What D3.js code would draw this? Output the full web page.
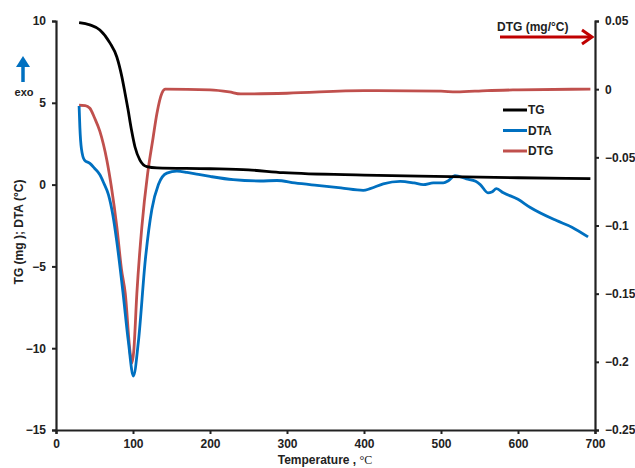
<!DOCTYPE html>
<html>
<head>
<meta charset="utf-8">
<script src="https://cdn.jsdelivr.net/npm/d3@7"></script>
<style>
body{margin:0;background:#fff}
svg{font-family:"Liberation Sans",Arial,sans-serif;font-weight:bold}
</style>
</head>
<body>
<svg id="chart" width="635" height="468"></svg>
<script>
// temperatures (°C) and values
var tgT   = [30,44,57,70,79,85.5,89.6,93.5,98,102.6,109,118,131,200,250,295,400,512,600,694]
var tgV   = [9.9,9.76,9.45,8.66,7.8,6.6,5.6,4.6,3.35,2.3,1.5,1.1,1.02,0.97,0.9,0.73,0.58,0.49,0.42,0.37]
var dtaT  = [30,31,33,37,44,50,57,62,68,74,79,87,94,100.5,107,116,124.5,133,144,157,170,185,200,230,265,287,310,339,370,399,408,425,447,465,477,490,503,510,518,533,545,551,561,566,572,581,600,616,650,670,691]
var dtaV  = [4.8,3.5,2.2,1.5,1.3,1.0,0.6,0.1,-0.6,-1.9,-3.5,-6.6,-9.6,-11.7,-9.6,-4.6,-1.5,0,0.7,0.82,0.75,0.62,0.5,0.3,0.22,0.25,0.1,-0.05,-0.2,-0.35,-0.25,0.05,0.2,0.1,0,0.1,0.1,0.25,0.55,0.35,0.2,0,-0.5,-0.45,-0.25,-0.5,-0.9,-1.4,-2.2,-2.6,-3.2]
var dtgT  = [30,38,44,50,57,66,72,79,85,90,96,98.5,101,105,111.5,119,126,131,137.5,142,200,225,240,300,400,500,520,560,600,694]
var dtgV  = [-0.0118,-0.012,-0.014,-0.021,-0.031,-0.052,-0.072,-0.101,-0.132,-0.150,-0.192,-0.201,-0.192,-0.150,-0.101,-0.062,-0.036,-0.018,-0.003,0,-0.0005,-0.002,-0.0035,-0.003,-0.001,-0.0015,-0.002,-0.001,-0.0005,0]
var xTicks = [0,100,200,300,400,500,600,700]
var yTicks = [-15,-10,-5,0,5,10]
var y2Ticks = [-0.25,-0.2,-0.15,-0.1,-0.05,0,0.05]
var seriesNames = ["TG","DTA","DTG"]
var seriesColors = ["#000000","#0070c0","#c0504d"]

var svg = d3.select("#chart")
var L = 56, R = 595, T = 21, B = 430

var x = d3.scaleLinear().domain([0,700]).range([L,R])
var y = d3.scaleLinear().domain([-15,10]).range([B,T])
var y2 = d3.scaleLinear().domain([-0.25,0.05]).range([B,T])

function zip(a,b){return a.map(function(d,i){return [d,b[i]]})}

var line1 = d3.line().x(function(d){return x(d[0])}).y(function(d){return y(d[1])}).curve(d3.curveMonotoneX)
var line2 = d3.line().x(function(d){return x(d[0])}).y(function(d){return y2(d[1])}).curve(d3.curveMonotoneX)

// axes
var ax = svg.append("g").attr("transform","translate(0,"+B+")")
	.call(d3.axisBottom(x).tickValues(xTicks).tickSize(4).tickPadding(5))
var ay = svg.append("g").attr("transform","translate("+L+",0)")
	.call(d3.axisLeft(y).tickValues(yTicks).tickSize(4).tickPadding(6))
var ay2 = svg.append("g").attr("transform","translate("+R+",0)")
	.call(d3.axisRight(y2).tickValues(y2Ticks).tickSize(4).tickPadding(6).tickFormat(function(d){return d3.format("")(+d.toFixed(2))}))
;[ax,ay,ay2].forEach(function(g){
	g.select(".domain").attr("stroke","#222").attr("stroke-width",2.2)
	g.selectAll(".tick line").attr("stroke","#222").attr("stroke-width",2)
	g.selectAll(".tick text").attr("font-size",12).attr("font-weight","bold").attr("fill","#222").attr("font-family","Liberation Sans,Arial,sans-serif")
})

// series
svg.append("path").attr("d",line2(zip(dtgT,dtgV))).attr("fill","none").attr("stroke",seriesColors[2]).attr("stroke-width",2.8)
svg.append("path").attr("d",line1(zip(dtaT,dtaV))).attr("fill","none").attr("stroke",seriesColors[1]).attr("stroke-width",2.8)
svg.append("path").attr("d",line1(zip(tgT,tgV))).attr("fill","none").attr("stroke",seriesColors[0]).attr("stroke-width",2.8)

// legend
seriesNames.forEach(function(n,i){
	var ly = 110 + i*20.5
	svg.append("line").attr("x1",503).attr("x2",527).attr("y1",ly).attr("y2",ly).attr("stroke",seriesColors[i]).attr("stroke-width",3)
	svg.append("text").attr("x",528).attr("y",ly).attr("dy","0.35em").attr("font-size",12).attr("fill","#222").text(n)
})

// titles
svg.append("text").attr("transform","translate(23,232) rotate(-90)").attr("text-anchor","middle").attr("font-size",12).attr("fill","#222").text("TG (mg ); DTA (°C)")
var xt = svg.append("text").attr("x",325).attr("y",464).attr("text-anchor","middle").attr("font-size",12).attr("fill","#222")
xt.append("tspan").text("Temperature , ")
xt.append("tspan").attr("font-family","Liberation Serif,serif").attr("font-weight","normal").text("°C")

svg.append("text").attr("x",497).attr("y",31).attr("font-size",12).attr("fill","#222").text("DTG (mg/°C)")

// arrows
svg.append("line").attr("x1",500).attr("x2",591).attr("y1",37).attr("y2",37).attr("stroke","#c00000").attr("stroke-width",3)
svg.append("path").attr("d","M582,30 L592,37 L582,44").attr("fill","none").attr("stroke","#c00000").attr("stroke-width",3)

svg.append("line").attr("x1",23).attr("x2",23).attr("y1",82).attr("y2",64).attr("stroke","#0070c0").attr("stroke-width",3.5)
svg.append("path").attr("d","M16,67 L23,56 L30,67 Z").attr("fill","#0070c0")
svg.append("text").attr("x",24).attr("y",96).attr("text-anchor","middle").attr("font-size",11).attr("fill","#222").text("exo")
</script>
</body>
</html>
